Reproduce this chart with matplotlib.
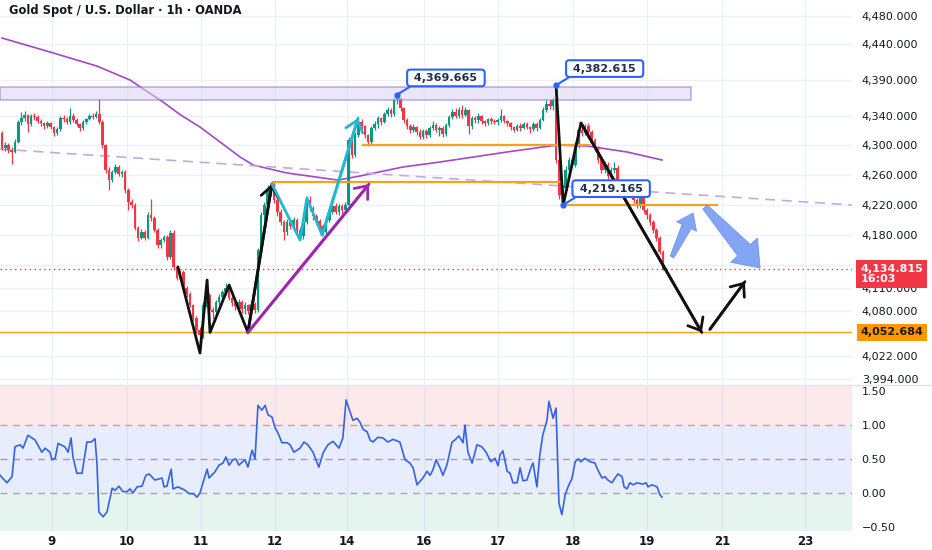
import numpy as np
import matplotlib
matplotlib.use('Agg')
import matplotlib.pyplot as plt
from matplotlib.patches import Rectangle, Polygon
from matplotlib.ticker import FixedLocator, NullLocator, FuncFormatter
from matplotlib.transforms import blended_transform_factory, IdentityTransform

plt.rcParams['font.family'] = ['DejaVu Sans']

title = 'Gold Spot / U.S. Dollar · 1h · OANDA'

# hourly candles, bar index 0..204
open0 = 4317
closes = np.array([
    4297, 4301, 4294, 4291, 4305, 4332, 4337, 4342, 4329, 4340,
    4339, 4333, 4330, 4326, 4330, 4325, 4317, 4322, 4337, 4336,
    4332, 4340, 4335, 4329, 4324, 4332, 4336, 4340, 4339, 4343,
    4332, 4300, 4267, 4253, 4264, 4270, 4261, 4264, 4240, 4224,
    4220, 4189, 4176, 4184, 4176, 4206, 4202, 4186, 4166, 4173,
    4177, 4151, 4182, 4137, 4123, 4131, 4110, 4102, 4088, 4071,
    4056, 4049, 4088, 4101, 4081, 4079, 4092, 4098, 4105, 4110,
    4097, 4091, 4087, 4092, 4083, 4088, 4080, 4089, 4081, 4160,
    4206, 4219, 4240, 4245, 4226, 4210, 4197, 4184, 4197, 4191,
    4199, 4186, 4178, 4197, 4226, 4215, 4205, 4198, 4191, 4184,
    4199, 4210, 4218, 4210, 4218, 4213, 4219, 4307, 4287, 4314,
    4332, 4326, 4314, 4304, 4324, 4329, 4337, 4332, 4343, 4348,
    4343, 4362, 4365, 4351, 4335, 4326, 4321, 4325, 4318, 4311,
    4320, 4314, 4324, 4328, 4321, 4324, 4316, 4328, 4339, 4346,
    4340, 4348, 4342, 4348, 4326, 4337, 4335, 4340, 4333, 4330,
    4336, 4333, 4332, 4335, 4340, 4333, 4330, 4325, 4321, 4326,
    4324, 4329, 4325, 4322, 4329, 4324, 4335, 4348, 4356, 4354,
    4362, 4280, 4233, 4242, 4267, 4280, 4274, 4300, 4321, 4317,
    4326, 4318, 4307, 4296, 4280, 4267, 4274, 4258, 4267, 4269,
    4250, 4245, 4234, 4240, 4242, 4226, 4219, 4229, 4213, 4206,
    4197, 4186, 4176, 4157, 4134.815])
highs = np.array([
    4320, 4305, 4303, 4298, 4308, 4334, 4345, 4347, 4343, 4343,
    4344, 4342, 4336, 4332, 4333, 4332, 4327, 4325, 4340, 4342,
    4339, 4351, 4344, 4337, 4331, 4334, 4338, 4343, 4344, 4347,
    4363, 4334, 4302, 4270, 4267, 4275, 4273, 4267, 4266, 4242,
    4228, 4222, 4192, 4187, 4186, 4210, 4228, 4205, 4189, 4176,
    4180, 4180, 4186, 4186, 4140, 4134, 4133, 4113, 4105, 4090,
    4074, 4060, 4092, 4108, 4103, 4085, 4095, 4102, 4108, 4116,
    4112, 4100, 4094, 4096, 4094, 4092, 4090, 4093, 4092, 4163,
    4210, 4223, 4246, 4251, 4250, 4229, 4214, 4200, 4201, 4200,
    4203, 4202, 4190, 4200, 4232, 4231, 4218, 4208, 4201, 4194,
    4203, 4214, 4232, 4222, 4221, 4221, 4223, 4312, 4309, 4318,
    4336, 4336, 4328, 4316, 4327, 4333, 4340, 4339, 4346, 4352,
    4351, 4366, 4369.665, 4366, 4353, 4338, 4329, 4329, 4327, 4322,
    4323, 4322, 4327, 4333, 4330, 4326, 4326, 4331, 4342, 4350,
    4351, 4352, 4355, 4352, 4350, 4340, 4340, 4344, 4342, 4335,
    4338, 4339, 4336, 4337, 4350, 4342, 4335, 4332, 4327, 4329,
    4330, 4332, 4332, 4327, 4332, 4332, 4338, 4352, 4362, 4362,
    4366, 4382.615, 4282, 4246, 4272, 4284, 4283, 4305, 4325, 4327,
    4329, 4330, 4321, 4310, 4299, 4284, 4277, 4277, 4270, 4277,
    4273, 4253, 4248, 4243, 4246, 4245, 4229, 4232, 4231, 4216,
    4209, 4199, 4189, 4179, 4160])
lows = np.array([
    4294, 4292, 4290, 4275, 4289, 4303, 4328, 4333, 4318, 4326,
    4334, 4330, 4327, 4322, 4324, 4322, 4313, 4314, 4320, 4332,
    4329, 4329, 4332, 4326, 4320, 4321, 4329, 4334, 4336, 4337,
    4329, 4297, 4262, 4240, 4250, 4261, 4258, 4257, 4236, 4213,
    4215, 4186, 4172, 4174, 4173, 4174, 4198, 4183, 4162, 4163,
    4170, 4147, 4148, 4134, 4120, 4120, 4106, 4099, 4085, 4068,
    4052, 4039, 4046, 4085, 4077, 4070, 4075, 4088, 4095, 4101,
    4094, 4087, 4082, 4083, 4078, 4076, 4076, 4077, 4078, 4079,
    4155, 4200, 4212, 4232, 4222, 4205, 4193, 4173, 4180, 4187,
    4188, 4182, 4174, 4175, 4194, 4212, 4200, 4194, 4187, 4180,
    4181, 4197, 4208, 4207, 4206, 4208, 4209, 4214, 4283, 4284,
    4312, 4322, 4310, 4299, 4302, 4321, 4324, 4328, 4330, 4340,
    4339, 4340, 4356, 4347, 4330, 4322, 4317, 4318, 4314, 4308,
    4308, 4310, 4312, 4321, 4318, 4313, 4311, 4313, 4325, 4336,
    4337, 4337, 4338, 4340, 4316, 4323, 4330, 4330, 4329, 4327,
    4328, 4329, 4329, 4328, 4332, 4330, 4327, 4321, 4318, 4319,
    4320, 4322, 4322, 4317, 4320, 4319, 4322, 4333, 4346, 4350,
    4349, 4276, 4228, 4219.165, 4238, 4262, 4270, 4270, 4297, 4313,
    4314, 4315, 4304, 4292, 4276, 4263, 4262, 4254, 4255, 4262,
    4246, 4241, 4230, 4230, 4236, 4222, 4215, 4216, 4209, 4201,
    4193, 4182, 4172, 4154, 4133])

# 200-period moving average (sampled)
ma_x = [0, 14.8, 29.3, 39.5, 44.1, 49.7, 55.0, 61.1, 67.3, 73.5, 77.5,
        88.0, 103.7, 110.5, 123.8, 135.2, 155.9, 171.3, 180.6, 192.9, 203.7]
ma_p = [4448.6, 4429.0, 4409.3, 4389.9, 4376.0, 4359.4, 4342.0, 4325.0, 4304.6, 4284.1, 4273.3,
        4262.5, 4253.0, 4258.5, 4270.7, 4277.4, 4291.0, 4300.4, 4299.1, 4291.0, 4280.1]

# oscillator pane
osc_x = [-0.6, 1.5, 3.1, 4.0, 5.6, 6.5, 8.0, 10.2, 12.3, 13.3,
         14.8, 15.4, 16.4, 17.3, 19.4, 20.4, 21.3, 21.9, 23.1, 24.7,
         26.2, 27.5, 28.7, 29.3, 29.9, 31.2, 32.4, 34.0, 34.9, 36.1,
         37.3, 38.6, 39.5, 40.4, 41.7, 43.2, 44.4, 45.4, 47.2, 49.4,
         50.0, 50.9, 52.2, 52.8, 54.3, 56.5, 57.7, 59.0, 60.2, 61.1,
         63.3, 63.9, 65.7, 67.0, 68.2, 69.1, 70.1, 71.3, 72.2, 73.1,
         75.0, 75.9, 77.2, 78.1, 79.0, 80.2, 81.2, 82.1, 83.3, 84.3,
         85.2, 86.4, 88.0, 88.9, 90.1, 92.0, 93.2, 94.4, 96.0, 97.8,
         99.1, 100.6, 102.2, 104.0, 105.2, 106.2, 108.3, 109.6, 110.5, 111.4,
         112.7, 113.6, 114.5, 116.0, 117.6, 119.1, 120.7, 122.8, 124.4, 125.9,
         126.9, 128.1, 129.9, 131.2, 132.1, 133.0, 134.0, 135.2, 136.1, 137.3,
         138.9, 139.8, 141.0, 142.3, 142.9, 143.8, 145.1, 146.6, 148.1, 149.4,
         150.9, 152.2, 153.1, 153.7, 154.6, 155.9, 156.8, 157.7, 159.0, 159.9,
         160.8, 162.0, 163.3, 163.9, 165.1, 166.0, 166.9, 168.2, 168.8, 170.1,
         171.0, 171.3, 171.9, 172.8, 173.8, 174.7, 175.9, 176.9, 177.8, 178.7,
         179.9, 181.5, 183.0, 183.9, 185.2, 186.1, 187.0, 188.3, 189.2, 190.1,
         191.4, 192.0, 192.9, 193.8, 194.8, 196.0, 197.8, 198.8, 199.4, 200.6,
         202.2, 203.1, 203.7]
osc_v = [0.26, 0.15, 0.24, 0.68, 0.71, 0.66, 0.85, 0.78, 0.60, 0.66,
         0.60, 0.49, 0.51, 0.73, 0.68, 0.60, 0.81, 0.53, 0.29, 0.29,
         0.75, 0.75, 0.80, 0.44, -0.28, -0.35, -0.28, 0.07, 0.04, 0.10,
         0.02, 0.02, 0.06, 0.00, 0.09, 0.10, 0.26, 0.28, 0.19, 0.22,
         0.09, 0.10, 0.35, 0.06, 0.09, 0.04, -0.01, -0.01, -0.06, 0.00,
         0.35, 0.22, 0.31, 0.41, 0.44, 0.53, 0.41, 0.49, 0.50, 0.41,
         0.49, 0.38, 0.63, 0.50, 1.29, 1.22, 1.29, 1.15, 1.12, 0.96,
         0.88, 0.74, 0.74, 0.71, 0.60, 0.66, 0.75, 0.71, 0.60, 0.38,
         0.59, 0.71, 0.76, 0.66, 0.81, 1.37, 1.07, 1.10, 1.04, 0.94,
         0.90, 0.78, 0.75, 0.82, 0.81, 0.75, 0.79, 0.75, 0.49, 0.44,
         0.37, 0.12, 0.22, 0.32, 0.26, 0.34, 0.49, 0.37, 0.26, 0.41,
         0.75, 0.78, 0.84, 0.74, 1.00, 0.60, 0.44, 0.71, 0.68, 0.60,
         0.46, 0.51, 0.40, 0.56, 0.62, 0.32, 0.29, 0.15, 0.15, 0.37,
         0.18, 0.19, 0.38, 0.44, 0.09, 0.56, 0.85, 1.07, 1.35, 1.10,
         1.25, 0.78, -0.15, -0.32, -0.03, 0.09, 0.21, 0.46, 0.50, 0.46,
         0.51, 0.46, 0.44, 0.34, 0.22, 0.24, 0.19, 0.15, 0.22, 0.28,
         0.24, 0.09, 0.06, 0.15, 0.12, 0.15, 0.13, 0.15, 0.09, 0.12,
         0.09, -0.03, -0.06]

day_pos = [15.4, 38.6, 61.4, 84.3, 106.5, 130.2, 153.1, 176.2, 199.1, 222.2, 247.8]
day_lbl = ['9', '10', '11', '12', '14', '16', '17', '18', '19', '21', '23']
price_ticks = [4480, 4440, 4390, 4340, 4300, 4260, 4220, 4180, 4110, 4080, 4022, 3994]
price_grid = price_ticks + [4140]

# drawings anchored to (bar, price)
zone = (-0.6, 212.7, 4362.2, 4380.1)
support = 4052.684
hlines_orange = [(4300.4, 111.1, 181.5), (4250.4, 83.3, 172.8), (4219.165, 173.2, 221.0)]
trend_x, trend_p = [-0.6, 262.3], [4294.9, 4219.6]
black1_x = [54.3, 61.1, 63.3, 64.2, 70.1, 75.9, 83.3]
black1_p = [4137.5, 4026.4, 4120.5, 4052.7, 4114.0, 4052.7, 4247.7]
cyan_x = [83.3, 92.0, 94.1, 98.8, 109.9]
cyan_p = [4247.7, 4173.0, 4228.9, 4179.6, 4337.3]
purple_x = [75.9, 113.3]
purple_p = [4052.7, 4247.7]
black2_x = [171.0, 173.2, 178.7, 216.0]
black2_p = [4382.615, 4219.165, 4330.5, 4052.684]
black3_x = [218.5, 229.3]
black3_p = [4056.8, 4118.4]
# (tail, tip, tail width, neck width, head width, head length) sizes in px
blue_arrows = [((206.8, 4150.7), (213.3, 4208.9), 4, 10, 22, 15),
               ((217.0, 4216.8), (234.0, 4136.2), 6, 17, 36, 24)]
callouts = [(122, 4369.665), (171, 4382.615), (173, 4219.165)]

# ---------------------------------------------------------------
fig = plt.figure(figsize=(9.32, 5.5), dpi=100)
ax = fig.add_axes([0, 1 - 384 / 550, 852 / 932, 384 / 550])
ax2 = fig.add_axes([0, 1 - 531 / 550, 852 / 932, 146 / 550], sharex=ax)

ax.set_yscale('log')
ax.set_ylim(3987.1, 4502.5)
ax.set_xlim(-0.62, 262.35)

grid_c = '#eef0f5'
for d in day_pos:
    ax.axvline(d, color=grid_c, lw=1, zorder=0)
    ax2.axvline(d, color='#dfe3ee', lw=1, zorder=1)
for t in price_grid:
    ax.axhline(t, color=grid_c, lw=1, zorder=0)

# zone
ax.add_patch(Rectangle((zone[0], zone[2]), zone[1] - zone[0], zone[3] - zone[2],
                       facecolor='#dcd5f3', alpha=0.55, edgecolor='#7d6fd1', lw=1.1, zorder=4))

ax.plot(ma_x, ma_p, color='#a249c9', lw=1.2, zorder=2)
ax.plot(trend_x, trend_p, color='#c9a6dc', lw=1.2, ls=(0, (6, 4)), zorder=2)
for p, x0, x1 in hlines_orange:
    ax.hlines(p, x0, x1, color='#f7a21b', lw=1.6, zorder=4)
ax.axhline(support, color='#f7a21b', lw=1, zorder=2)
ax.axhline(closes[-1], color='#f23645', lw=1, ls=(0, (1, 2.5)), zorder=2)

# candles
x = np.arange(len(closes))
opens = np.r_[open0, closes[:-1]]
col = np.where(closes >= opens, '#089981', '#f23645')
ax.vlines(x, lows, highs, colors=col, lw=0.9, zorder=3)
ax.bar(x, np.abs(closes - opens), bottom=np.minimum(opens, closes), width=0.8,
       color=col, linewidth=0, zorder=3)

# hand drawn lines
def arrow_line(xs, ps, color):
    ax.plot(xs, ps, color=color, lw=2, zorder=5, solid_capstyle='round')
    ax.annotate('', xy=(xs[-1], ps[-1]), xytext=(xs[-2], ps[-2]),
                arrowprops=dict(arrowstyle='->,head_length=0.55,head_width=0.45', color=color,
                                lw=2, shrinkA=0, shrinkB=0, mutation_scale=14), zorder=5)

arrow_line(black1_x, black1_p, '#111111')
arrow_line(cyan_x, cyan_p, '#22b8d3')
arrow_line(purple_x, purple_p, '#9c27b0')
arrow_line(black2_x, black2_p, '#111111')
arrow_line(black3_x, black3_p, '#111111')

# tapered block arrows, built in screen space so the log scale does not bend them
for tail, tip, w0, w1, wh, hl in blue_arrows:
    t0 = ax.transData.transform(tail)
    t1 = ax.transData.transform(tip)
    d = t1 - t0
    L = np.hypot(*d)
    u = d / L
    n = np.array([-u[1], u[0]])
    neck = t0 + u * (L - hl)
    verts = [t0 + n * w0 / 2, neck + n * w1 / 2, neck + n * wh / 2, t1,
             neck - n * wh / 2, neck - n * w1 / 2, t0 - n * w0 / 2]
    ax.add_patch(Polygon(verts, closed=True, transform=IdentityTransform(),
                         fc='#7a9cf4', ec='#6a90f0', lw=0.6, alpha=0.92, zorder=6))

for bx, p in callouts:
    ax.plot(bx, p, 'o', ms=3.5, color='#2962ff', zorder=7)
    ax.annotate(f' {p:,.3f} ', xy=(bx, p), xytext=(35, 12),
                textcoords='offset points', ha='center', va='center',
                fontsize=8, fontweight='bold', color='#1f2d4f',
                bbox=dict(boxstyle='round,pad=0.3,rounding_size=0.3', fc='white', ec='#2962ff', lw=1.5),
                arrowprops=dict(arrowstyle='-', color='#2962ff', lw=1.5, shrinkA=0, shrinkB=0,
                                relpos=(0.08, 0.0)), zorder=7)

# price axis
ax.yaxis.tick_right()
ax.yaxis.set_major_locator(FixedLocator(price_ticks))
ax.yaxis.set_minor_locator(NullLocator())
ax.yaxis.set_major_formatter(FuncFormatter(lambda v, _: f'{v:,.3f}'))
ax.tick_params(axis='y', length=0, pad=7, labelsize=8, labelcolor='#131722')
ax.tick_params(axis='x', length=0, labelbottom=False)
for s in ax.spines.values():
    s.set_visible(False)

blend = blended_transform_factory(ax.transAxes, ax.transData)
ax.annotate(f'{closes[-1]:,.3f}\n16:03', xy=(1, closes[-1]), xycoords=blend,
            xytext=(6, -3.5), textcoords='offset points', ha='left', va='center',
            fontsize=8, fontweight='semibold', color='white', linespacing=1.0,
            bbox=dict(boxstyle='square,pad=0.35', fc='#f23645', ec='none'),
            annotation_clip=False, zorder=10)
ax.annotate(f'{support:,.3f}', xy=(1, support), xycoords=blend,
            xytext=(6, 0), textcoords='offset points', ha='left', va='center',
            fontsize=8, fontweight='semibold', color='#1a1a1a',
            bbox=dict(boxstyle='square,pad=0.3', fc='#ff9800', ec='none'),
            annotation_clip=False, zorder=10)

ax.text(0.01, 0.972, title, transform=ax.transAxes, fontsize=8.3, fontweight='semibold',
        color='#131722', va='center', ha='left')

# oscillator
ax2.set_ylim(-0.56, 1.59)
ax2.axhspan(1.0, 1.59, color='#fde8ea', zorder=0)
ax2.axhspan(0.0, 1.0, color='#e7edfc', zorder=0)
ax2.axhspan(-0.56, 0.0, color='#e5f4ee', zorder=0)
ax2.axhline(1.0, color='#e98f97', lw=1, ls=(0, (5, 4)), zorder=1)
ax2.axhline(0.5, color='#a394d6', lw=1, ls=(0, (5, 4)), zorder=1)
ax2.axhline(0.0, color='#a3a8b3', lw=1, ls=(0, (5, 4)), zorder=1)
ax2.plot(osc_x, osc_v, color='#3563e0', lw=1.2, zorder=3)

ax2.yaxis.tick_right()
ax2.set_yticks([1.5, 1.0, 0.5, 0.0, -0.5])
ax2.yaxis.set_major_formatter(FuncFormatter(lambda v, _: f'{v:.2f}'.replace('-', '\u2212')))
ax2.tick_params(axis='y', length=0, pad=7, labelsize=8, labelcolor='#131722')
ax2.set_xticks(day_pos)
ax2.set_xticklabels(day_lbl)
ax2.tick_params(axis='x', length=0, pad=3, labelsize=8.5, labelcolor='#131722')
for lbl in ax2.get_xticklabels():
    lbl.set_fontweight('semibold')
for s in ax2.spines.values():
    s.set_visible(False)

fig.add_artist(plt.Line2D([0, 1], [1 - 384.5 / 550] * 2, color='#e0e3eb', lw=1))

fig.savefig('out.png', dpi=100, facecolor='white')
